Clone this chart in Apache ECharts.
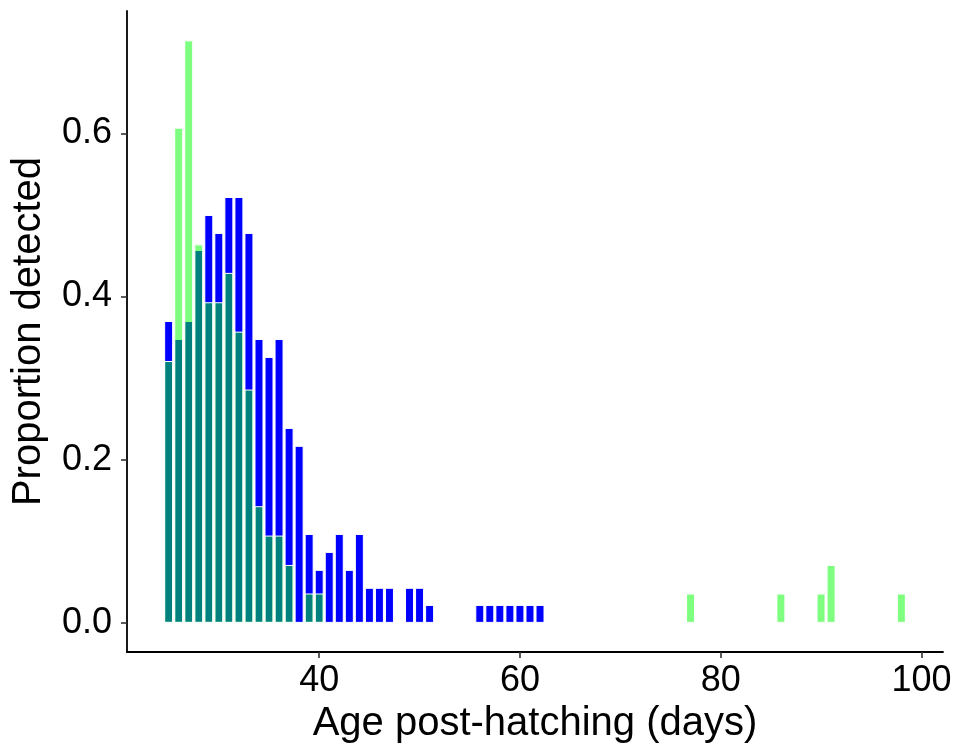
<!DOCTYPE html>
<html>
<head>
<meta charset="utf-8">
<script src="https://cdn.jsdelivr.net/npm/echarts@6/dist/echarts.min.js"></script>
<style>
  html, body { margin: 0; padding: 0; background: #fff; }
  #chart { width: 961px; height: 751px; }
</style>
</head>
<body>
<div id="chart"></div>
<script>
// Blue group: age (days) and proportion detected
const blueDays = [25,26,27,28,29,30,31,32,33,34,35,36,37,38,39,40,41,42,43,44,45,46,47,49,50,51,56,57,58,59,60,61,62];
const blueValues = [0.370,0.348,0.370,0.457,0.500,0.478,0.522,0.522,0.478,0.348,0.326,0.348,0.239,0.217,0.109,0.065,0.087,0.109,0.065,0.109,0.043,0.043,0.043,0.043,0.043,0.022,0.022,0.022,0.022,0.022,0.022,0.022,0.022];
// Green group
const greenDays = [25,26,27,28,29,30,31,32,33,34,35,36,37,39,40,77,86,90,91,98];
const greenValues = [0.321,0.607,0.714,0.464,0.393,0.393,0.429,0.357,0.286,0.143,0.107,0.107,0.071,0.036,0.036,0.036,0.036,0.036,0.071,0.036];
// Tick labels
const xTicks = [40, 60, 80, 100];
const yTicks = [0, 0.2, 0.4, 0.6];

const chart = echarts.init(document.getElementById('chart'), null, {renderer: 'canvas'});
const font = 'Liberation Sans, Arial, sans-serif';
chart.setOption({
  animation: false,
  backgroundColor: '#fff',
  grid: { left: 127, right: 18, top: 11, bottom: 99, containLabel: false },
  xAxis: {
    type: 'value',
    min: 20.85,
    max: 102.15,
    name: 'Age post-hatching (days)',
    nameLocation: 'middle',
    nameGap: 50,
    nameTextStyle: { fontSize: 40, color: '#000', fontFamily: font },
    axisLine: { onZero: false, lineStyle: { color: '#000', width: 1.8 } },
    axisTick: { show: true, length: 6, customValues: xTicks, lineStyle: { color: '#333', width: 1.6 } },
    axisLabel: { customValues: xTicks, margin: 11, fontSize: 36, color: '#000', fontFamily: font },
    splitLine: { show: false }
  },
  yAxis: {
    type: 'value',
    min: -0.0357,
    max: 0.75,
    name: 'Proportion detected',
    nameLocation: 'middle',
    nameGap: 78,
    nameTextStyle: { fontSize: 40, color: '#000', fontFamily: font },
    axisLine: { show: true, onZero: false, lineStyle: { color: '#000', width: 1.8 } },
    axisTick: { show: true, length: 6, customValues: yTicks, lineStyle: { color: '#333', width: 1.6 } },
    axisLabel: { customValues: yTicks, margin: 15, fontSize: 36, color: '#000', fontFamily: font,
      formatter: v => v.toFixed(1) },
    splitLine: { show: false }
  },
  series: [
    {
      type: 'bar',
      name: 'blue',
      data: blueDays.map((d, i) => [d, blueValues[i]]),
      barWidth: 9,
      barGap: '-100%',
      itemStyle: { color: '#0000ff', borderColor: '#ffffff', borderWidth: 1 }
    },
    {
      type: 'bar',
      name: 'green',
      data: greenDays.map((d, i) => [d, greenValues[i]]),
      barWidth: 9,
      barGap: '-100%',
      itemStyle: { color: 'rgba(0,255,0,0.5)', borderColor: '#ffffff', borderWidth: 1 }
    }
  ]
});
</script>
</body>
</html>
